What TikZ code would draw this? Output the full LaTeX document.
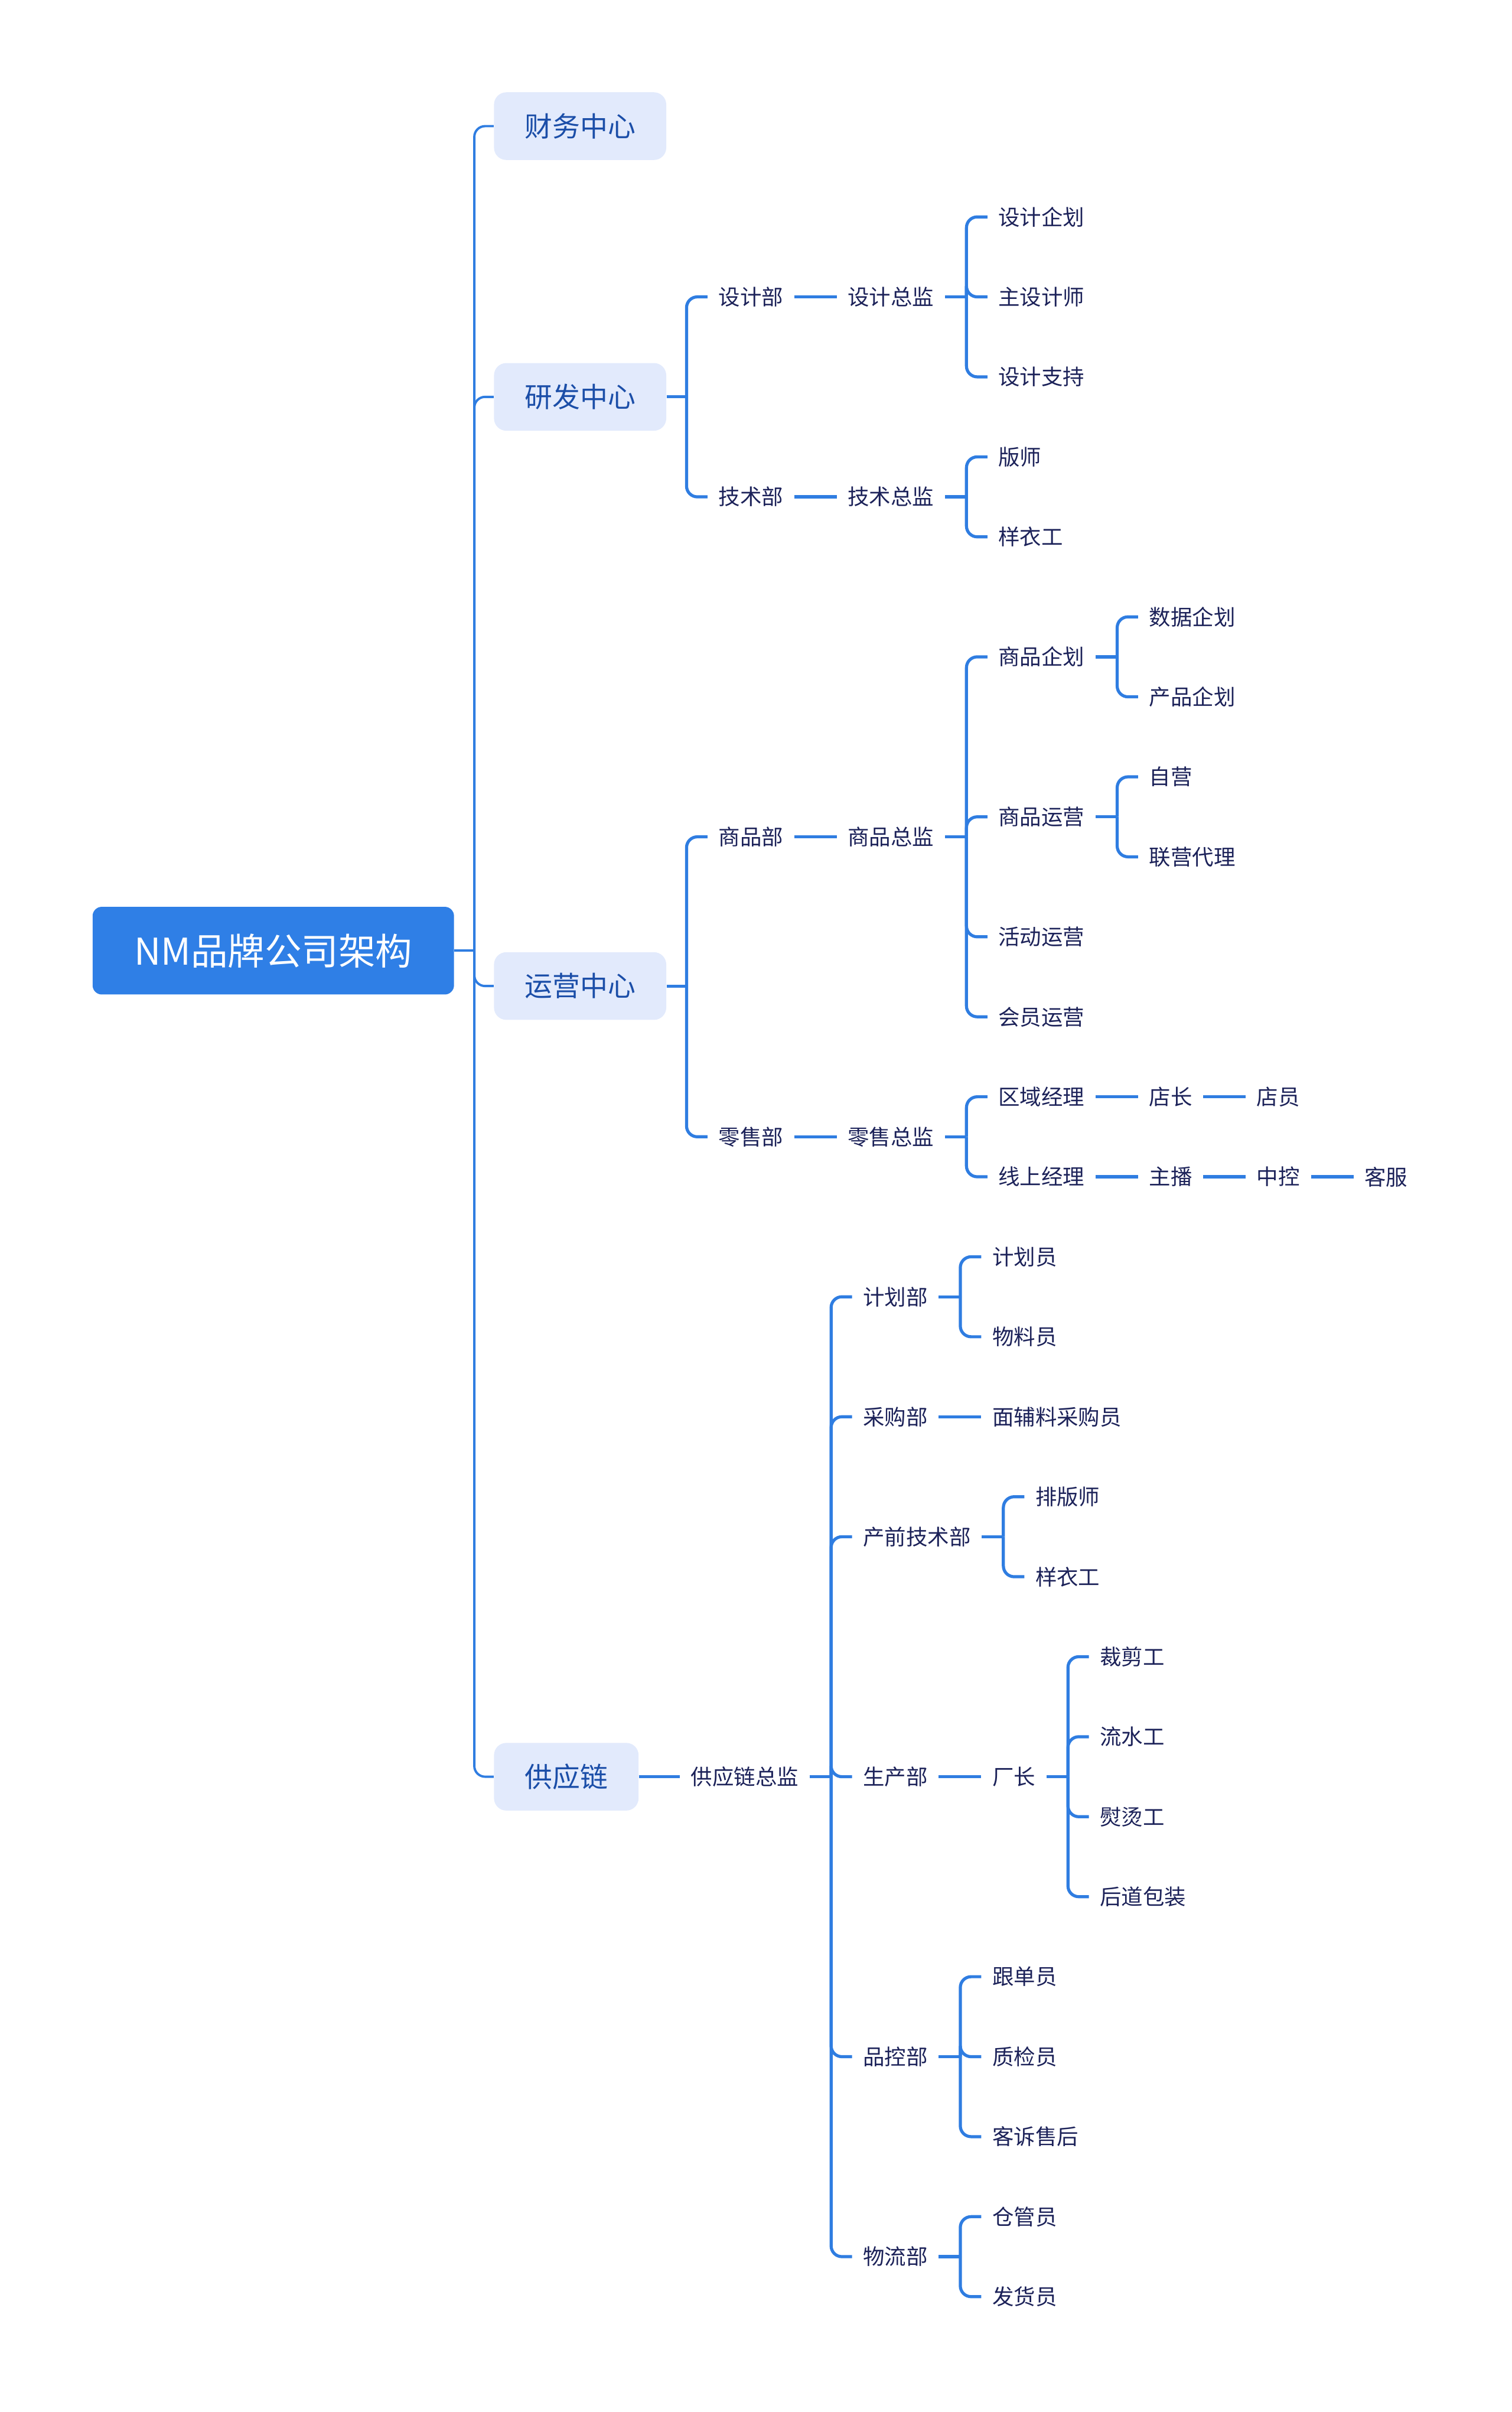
\documentclass[tikz,border=0pt]{standalone}
\usepackage{fontspec}
\setmainfont{Noto Sans CJK SC}
\usepackage{tikz}
\usetikzlibrary{positioning, calc}

\definecolor{RootBlue}{HTML}{2F7FE6}
\definecolor{CenterFill}{HTML}{E2EAFC}
\definecolor{CenterText}{HTML}{1B4EA8}
\definecolor{LeafText}{HTML}{1C2259}
\definecolor{BranchBlue}{HTML}{2F7DE1}

\tikzstyle{rootbox} = [
  rectangle, fill=RootBlue, text=white,
  rounded corners=6pt, minimum height=57pt, minimum width=235pt,
  font=\fontsize{24}{28}\selectfont, anchor=west
]
\tikzstyle{centerbox} = [
  rectangle, fill=CenterFill, text=CenterText,
  rounded corners=8pt, minimum height=44pt, inner xsep=20pt,
  font=\fontsize{18}{22}\selectfont, anchor=west
]
\tikzstyle{leaf} = [
  inner xsep=7pt, inner ysep=3pt, text=LeafText,
  font=\fontsize{14}{17}\selectfont, anchor=west
]
\tikzstyle{link} = [draw=BranchBlue, line width=2pt, rounded corners=7pt]
\tikzstyle{trunk} = [link, line width=1.5pt]

\begin{document}
\begin{tikzpicture}[x=1pt, y=-1pt]

  \useasboundingbox (0,0) rectangle (983,1568);

  % Root and centres
  \node[rootbox] (root) at (60,618) {NM品牌公司架构};
  \node[centerbox] (fin) at (321,82) {财务中心};
  \node[centerbox] (rnd) at (321,258) {研发中心};
  \node[centerbox] (ops) at (321,641) {运营中心};
  \node[centerbox] (sup) at (321,1155) {供应链};

  % R&D centre
  \node[leaf] (dsg) at (460,193) {设计部};
  \node[leaf] (dsgdir) at (544,193) {设计总监};
  \node[leaf] (dsgplan) at (642,141) {设计企划};
  \node[leaf] (chiefdsg) at (642,193) {主设计师};
  \node[leaf] (dsgsup) at (642,245) {设计支持};
  \node[leaf] (tec) at (460,323) {技术部};
  \node[leaf] (tecdir) at (544,323) {技术总监};
  \node[leaf] (pattern) at (642,297) {版师};
  \node[leaf] (sampler) at (642,349) {样衣工};

  % Operations centre
  \node[leaf] (mer) at (460,544) {商品部};
  \node[leaf] (merdir) at (544,544) {商品总监};
  \node[leaf] (merplan) at (642,427) {商品企划};
  \node[leaf] (dataplan) at (740,401) {数据企划};
  \node[leaf] (prodplan) at (740,453) {产品企划};
  \node[leaf] (merops) at (642,531) {商品运营};
  \node[leaf] (selfrun) at (740,505) {自营};
  \node[leaf] (agency) at (740,557) {联营代理};
  \node[leaf] (event) at (642,609) {活动运营};
  \node[leaf] (member) at (642,661) {会员运营};
  \node[leaf] (retail) at (460,739) {零售部};
  \node[leaf] (retdir) at (544,739) {零售总监};
  \node[leaf] (area) at (642,713) {区域经理};
  \node[leaf] (shopmgr) at (740,713) {店长};
  \node[leaf] (clerk) at (810,713) {店员};
  \node[leaf] (online) at (642,765) {线上经理};
  \node[leaf] (host) at (740,765) {主播};
  \node[leaf] (control) at (810,765) {中控};
  \node[leaf] (service) at (880,765) {客服};

  % Supply chain
  \node[leaf] (supdir) at (442,1155) {供应链总监};
  \node[leaf] (plan) at (554,843) {计划部};
  \node[leaf] (planner) at (638,817) {计划员};
  \node[leaf] (material) at (638,869) {物料员};
  \node[leaf] (buy) at (554,921) {采购部};
  \node[leaf] (buyer) at (638,921) {面辅料采购员};
  \node[leaf] (pretech) at (554,999) {产前技术部};
  \node[leaf] (layout) at (666,973) {排版师};
  \node[leaf] (sampler2) at (666,1025) {样衣工};
  \node[leaf] (prod) at (554,1155) {生产部};
  \node[leaf] (factory) at (638,1155) {厂长};
  \node[leaf] (cutter) at (708,1077) {裁剪工};
  \node[leaf] (line) at (708,1129) {流水工};
  \node[leaf] (ironer) at (708,1181) {熨烫工};
  \node[leaf] (packer) at (708,1233) {后道包装};
  \node[leaf] (qc) at (554,1337) {品控部};
  \node[leaf] (follow) at (638,1285) {跟单员};
  \node[leaf] (inspect) at (638,1337) {质检员};
  \node[leaf] (aftersale) at (638,1389) {客诉售后};
  \node[leaf] (logis) at (554,1467) {物流部};
  \node[leaf] (keeper) at (638,1441) {仓管员};
  \node[leaf] (shipper) at (638,1493) {发货员};

  % Root connections
  \draw[trunk] (root.east) -- ++(13,0) coordinate (b0);
  \foreach \n in {fin,rnd,ops,sup}
    \draw[trunk] (b0) |- (\n.west);

  % R&D connections
  \draw[link] (rnd.east) -- ++(13,0) coordinate (b1);
  \foreach \n in {dsg,tec}
    \draw[link] (b1) |- (\n.west);
  \draw[link] (dsg) -- (dsgdir);
  \draw[link] (tec) -- (tecdir);
  \draw[link] (dsgdir.east) -- ++(14,0) coordinate (b2);
  \foreach \n in {dsgplan,chiefdsg,dsgsup}
    \draw[link] (b2) |- (\n.west);
  \draw[link] (tecdir.east) -- ++(14,0) coordinate (b3);
  \foreach \n in {pattern,sampler}
    \draw[link] (b3) |- (\n.west);

  % Operations connections
  \draw[link] (ops.east) -- ++(13,0) coordinate (b4);
  \foreach \n in {mer,retail}
    \draw[link] (b4) |- (\n.west);
  \draw[link] (mer) -- (merdir);
  \draw[link] (retail) -- (retdir);
  \draw[link] (merdir.east) -- ++(14,0) coordinate (b5);
  \foreach \n in {merplan,merops,event,member}
    \draw[link] (b5) |- (\n.west);
  \draw[link] (merplan.east) -- ++(14,0) coordinate (b6);
  \foreach \n in {dataplan,prodplan}
    \draw[link] (b6) |- (\n.west);
  \draw[link] (merops.east) -- ++(14,0) coordinate (b7);
  \foreach \n in {selfrun,agency}
    \draw[link] (b7) |- (\n.west);
  \draw[link] (retdir.east) -- ++(14,0) coordinate (b8);
  \foreach \n in {area,online}
    \draw[link] (b8) |- (\n.west);
  \draw[link] (area) -- (shopmgr);
  \draw[link] (shopmgr) -- (clerk);
  \draw[link] (online) -- (host);
  \draw[link] (host) -- (control);
  \draw[link] (control) -- (service);

  % Supply chain connections
  \draw[link] (sup) -- (supdir);
  \draw[link] (supdir.east) -- ++(14,0) coordinate (b9);
  \foreach \n in {plan,buy,pretech,prod,qc,logis}
    \draw[link] (b9) |- (\n.west);
  \draw[link] (plan.east) -- ++(14,0) coordinate (b10);
  \foreach \n in {planner,material}
    \draw[link] (b10) |- (\n.west);
  \draw[link] (buy) -- (buyer);
  \draw[link] (pretech.east) -- ++(14,0) coordinate (b11);
  \foreach \n in {layout,sampler2}
    \draw[link] (b11) |- (\n.west);
  \draw[link] (prod) -- (factory);
  \draw[link] (factory.east) -- ++(14,0) coordinate (b12);
  \foreach \n in {cutter,line,ironer,packer}
    \draw[link] (b12) |- (\n.west);
  \draw[link] (qc.east) -- ++(14,0) coordinate (b13);
  \foreach \n in {follow,inspect,aftersale}
    \draw[link] (b13) |- (\n.west);
  \draw[link] (logis.east) -- ++(14,0) coordinate (b14);
  \foreach \n in {keeper,shipper}
    \draw[link] (b14) |- (\n.west);

\end{tikzpicture}
\end{document}
